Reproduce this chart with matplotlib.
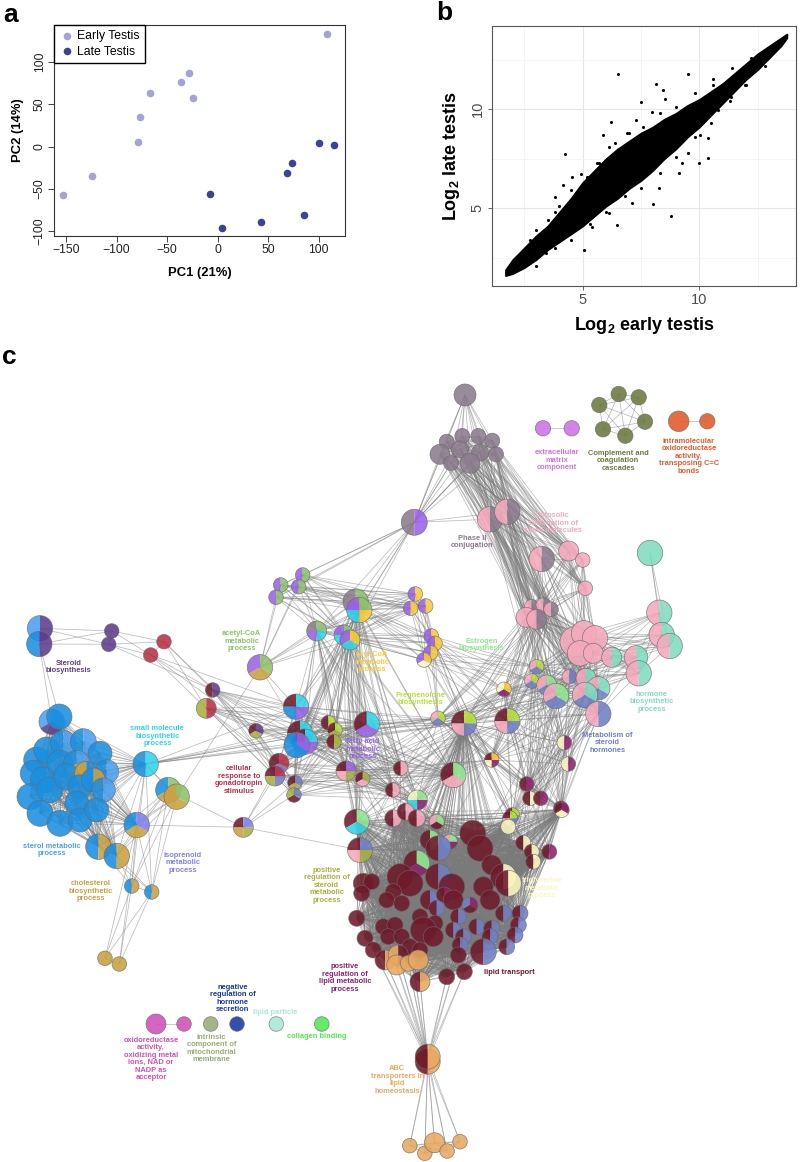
import matplotlib
matplotlib.use('Agg')
import matplotlib.pyplot as plt
from matplotlib.patches import Wedge, Circle
from matplotlib.collections import LineCollection
from itertools import combinations

plt.rcParams['font.family'] = ['Liberation Sans', 'DejaVu Sans']
plt.rcParams['mathtext.fontset'] = 'custom'
plt.rcParams['mathtext.rm'] = 'Liberation Sans'
plt.rcParams['mathtext.bf'] = 'Liberation Sans:bold'
plt.rcParams['mathtext.default'] = 'bf'

# ---------------- panel a: PCA ----------------
early_pc1 = [108, -28, -36, -67, -24, -77, -79, -124, -153]
early_pc2 = [133, 87, 76, 64, 57, 35, 5, -35, -57]
late_pc1 = [100, 115, 74, 69, -8, 85, 43, 4]
late_pc2 = [4, 2, -19, -31, -56, -81, -90, -96]

# ---------------- panel b: expression scatter ----------------
band_x = [1.7, 2.0, 2.5, 3.0, 3.5, 4.0, 4.5, 5.0, 5.5, 6.0, 6.5, 7.0, 7.5, 8.0,
          8.5, 9.0, 9.5, 10.0, 10.5, 11.0, 11.5, 12.0, 12.5, 13.0, 13.5, 13.75]
band_lo = [1.6, 1.7, 2.0, 2.4, 2.9, 3.3, 3.7, 4.1, 4.6, 5.1, 5.5, 6.0, 6.4, 6.9,
           7.5, 8.0, 8.6, 9.1, 9.7, 10.3, 10.9, 11.5, 12.0, 12.6, 13.2, 13.6]
band_hi = [1.9, 2.4, 3.0, 3.6, 4.1, 4.8, 5.5, 6.3, 6.9, 7.5, 8.0, 8.4, 8.8, 9.1,
           9.5, 9.8, 10.2, 10.5, 10.9, 11.3, 11.8, 12.3, 12.8, 13.2, 13.6, 13.8]
out_x = [6.5, 9.5, 8.13, 10.57, 8.43, 7.52, 8.54, 6.22, 5.88, 4.26, 7.27, 7.97, 9.26,
         9.52, 10.03, 10.38, 10.38, 10.0, 8.77, 8.0, 6.47, 5.07, 3.84, 4.18, 4.93, 4.55,
         3.82, 5.71, 6.13, 6.91, 6.13, 7.12, 8.26, 9.11, 10.8, 11.94, 11.37, 2.73, 3.44,
         4.29, 5.42, 9.67, 8.82,
         3.0, 3.5, 4.0, 4.5, 5.2, 5.6, 6.4, 7.0, 7.6, 8.3, 9.0, 9.8, 10.6, 11.4, 12.2,
         3.0, 3.8, 4.5, 5.3, 6.0, 6.8, 7.5, 8.3, 9.0, 9.8, 10.5, 11.3, 12.0, 12.8]
out_y = [11.78, 11.78, 11.26, 11.52, 10.98, 10.37, 10.52, 9.34, 8.70, 7.73, 9.46, 9.88, 7.27,
         7.81, 8.70, 8.54, 7.53, 7.27, 4.61, 5.22, 4.16, 2.90, 4.81, 6.18, 6.75, 6.60,
         5.59, 7.27, 8.11, 8.79, 4.75, 5.25, 6.01, 6.77, 9.97, 11.23, 10.64, 3.40, 2.73,
         3.74, 4.07, 9.12, 8.45,
         3.9, 4.4, 5.1, 5.9, 6.6, 7.3, 8.3, 8.8, 9.1, 9.8, 10.1, 10.8, 11.2, 12.1, 12.6,
         2.1, 3.0, 3.4, 4.2, 4.8, 5.6, 6.0, 6.8, 7.6, 8.6, 9.3, 10.4, 11.2, 12.2]

# ---------------- panel c: enrichment network ----------------
pal = {
    'gy': '#8c7b8e', 'pu': '#9a62e6', 'pk': '#f5a9bc', 'tl': '#80dcc0', 'mr': '#6e1a2a',
    'sb': '#6f80c4', 'lg': '#90e890', 'lm': '#b8e03a', 'ly': '#fbf6c0', 'ye': '#f9cb36',
    'gr': '#8dc26a', 'go': '#caa142', 'bl': '#1b8fe0', 'sl': '#4aa0f0', 'cy': '#2fd4e8',
    'pw': '#8080f0', 'dp': '#5e3c8c', 'cr': '#b83048', 'ol': '#a8b040', 'mg': '#8e2070',
    'tn': '#e8a860', 'cm': '#6b7a40', 'em': '#d070e8', 'io': '#e05a2a', 'ox': '#d050b8',
    'ic': '#98ac78', 'nr': '#1838a0', 'lp': '#a8e8d8', 'cb': '#50e850',
}

groups = {
    'gray_top': [(465, 395, 11, 'gy')],
    'gray_cl': [(446.7, 441.7, 7.5, 'gy'), (462.3, 436, 7.5, 'gy'), (478.3, 436, 7.5, 'gy'),
                (492.3, 440.7, 7.5, 'gy'), (440, 454.3, 10, 'gy'), (460, 449.3, 8.5, 'gy'),
                (480, 452.7, 8.5, 'gy'), (496, 454.3, 7.5, 'gy'), (451, 463, 7.5, 'gy'),
                (470, 463.3, 10, 'gy')],
    'p2_left': [(414.3, 522.3, 13, 'gy/pu')],
    'p2_right': [(490, 519.3, 12.7, 'pk/gy'), (507.3, 511.7, 12.7, 'pk/gy')],
    'extra': [(543, 428.3, 7.7, 'em'), (571.7, 428.3, 7.7, 'em')],
    'compl': [(599.3, 405, 7.7, 'cm'), (618.7, 394, 7.7, 'cm'), (638.7, 397.3, 7.7, 'cm'),
              (645, 421.7, 7.7, 'cm'), (625.3, 435.7, 7.7, 'cm'), (603, 429.3, 7.7, 'cm')],
    'intra': [(678.7, 421.3, 10.3, 'io'), (707.3, 421.3, 7.7, 'io')],
    'sulf': [(541.7, 559, 12.7, 'pk/gy'), (568.7, 551, 10, 'pk'), (582.7, 560, 7.3, 'pk'),
             (585.3, 588.3, 7.3, 'pk')],
    'teal_top': [(650, 553, 12.7, 'tl')],
    'teal_col': [(659.3, 612.7, 12.7, 'pk/tl'), (661.7, 635, 12.7, 'pk/tl'),
                 (669.7, 646, 12.7, 'pk/tl')],
    'pink_big': [(575, 641.7, 15, 'pk'), (584, 633.3, 12.7, 'pk'), (595, 638.3, 12.7, 'pk'),
                 (580, 653.3, 12.7, 'pk'), (593.3, 653.3, 10, 'pk')],
    'pink_teal': [(611.7, 657.3, 10, 'pk/tl'), (636, 657.3, 11.7, 'pk/tl'),
                  (638.7, 673.3, 12.7, 'pk/tl')],
    'pink_gray2': [(531.7, 606.7, 7.3, 'pk/gy'), (543.3, 605, 7.3, 'pk/gy'),
                   (551, 609.3, 7.3, 'pk/gy'), (526, 617.3, 10, 'pk'), (536.7, 619.3, 10, 'pk/gy')],
    'mix_right': [(536.7, 666.7, 7.3, 'pk/sb/lm'), (531.7, 681, 7.3, 'pk/sb/lm'),
                  (569.3, 676.7, 7.3, 'pk/sb'), (546.7, 685, 10, 'pk/sb/lg'),
                  (556, 696, 12.7, 'pk/sb/lg'), (586, 678.3, 10, 'pk/tl'),
                  (598.3, 688.3, 11.7, 'pk/sb/tl'), (585, 695, 12.7, 'pk/sb/tl'),
                  (598.3, 714, 12.7, 'pk/sb')],
    'purple_green': [(302.7, 575, 7.3, 'pu/gr'), (280.7, 585, 7.3, 'pu/gr'),
                     (298.7, 586.7, 7.3, 'pu/gr'), (276, 597.3, 7.3, 'pu/gr')],
    'py_top': [(415.3, 594, 7.3, 'pu/ye'), (410.7, 608.3, 7.3, 'pu/ye'),
               (425.7, 606, 7.3, 'pu/ye')],
    'py_low': [(431.3, 636, 7.3, 'pu/ye'), (435, 643.3, 7.3, 'pu/ye'),
               (430.7, 652.7, 7.3, 'pu/ye'), (424, 660, 7.3, 'pu/ly/ye')],
    'hub_top': [(355.7, 601.7, 12.7, 'gy/pu/gr'), (359.3, 610, 12.7, 'pu/cy/ye/gr'),
                (316.7, 631, 10, 'gy/pu/cy/gr'), (344, 635, 10, 'pu/cy/ye/gr'),
                (350, 640, 10, 'pu/cy/ye')],
    'acetyl': [(260, 667.3, 12.7, 'pu/go/gr')],
    'steroid': [(40, 628.3, 12.7, 'sl/dp'), (39.3, 644, 12.7, 'bl/dp'),
                (111.7, 631, 7.3, 'dp'), (108.7, 644.3, 7.3, 'dp')],
    'crimson': [(164, 641.7, 7.3, 'cr'), (150.7, 655, 7.3, 'cr')],
    'mid_left': [(212.7, 690, 7.3, 'mr/dp'), (206.3, 708.3, 10, 'ol/cr'),
                 (256, 730.7, 7.3, 'mr/ol/dp')],
    'hub_mid': [(296, 706.7, 12.7, 'mr/bl/pu/cy'), (300, 733.3, 12.7, 'mr/bl/pu/cy'),
                (305, 741.7, 12.7, 'mr/bl/pu/cy'), (296.7, 745, 12.7, 'bl/bl/pu'),
                (328.3, 722.7, 7.3, 'mr/lm'), (335, 730, 7.3, 'mr/ol/lm'),
                (334, 741.7, 7.3, 'mr/ol'), (366.7, 724.3, 12.7, 'mr/pu/cy')],
    'gonad': [(279, 763.3, 10, 'mr/sb/cr'), (275, 776, 10, 'mr/ol/sb/cr'),
              (295, 782.7, 7.3, 'mr/ol/sb'), (294, 795, 7.3, 'ol/mr/sb')],
    'preg': [(504, 689.3, 7.3, 'ly/mg/ye'), (438, 718.3, 7.3, 'pk/sb/lm'),
             (464, 723.3, 12.7, 'mr/pk/sb/lm'), (507.3, 721, 12.7, 'mr/pk/sb/lm'),
             (491.7, 760, 7.3, 'mr/ly/mg/ye')],
    'center': [(453.3, 775, 12.7, 'mr/pk/lg'), (400.7, 768.3, 7.3, 'mr/pk'),
               (346, 771, 10, 'mr/pk/ol/pu'), (362.7, 779, 7.3, 'mr/pk/ol'),
               (392.7, 790, 7.3, 'mr/pk'), (417.3, 800, 10, 'ly/cy/mg/lg')],
    'yellow_mag': [(564.3, 742.7, 7.3, 'ly/mg'), (568.3, 764, 7.3, 'ly/mg'),
                   (526.7, 784, 7.3, 'mr/mg'), (530, 798.3, 7.3, 'mr/ly'),
                   (540.7, 798.3, 7.3, 'mr/mg'), (561, 808.3, 7.3, 'mr/ly/mg'),
                   (512.3, 815, 7.3, 'mr/pk/sb/lm')],
    'blue_cl': [(51.7, 721.7, 12.7, 'sl/dp/bl'), (59.3, 716.7, 12.7, 'bl'),
                (36.7, 760, 13, 'bl'), (46.7, 750, 13, 'bl'), (63.3, 743.3, 13, 'bl/sl'),
                (83.3, 741.7, 13, 'bl/sl'), (100, 753.3, 12, 'bl'), (33.3, 773.3, 13, 'bl'),
                (43.3, 780, 13, 'bl'), (60, 763.3, 13, 'bl'), (76.7, 763.3, 13, 'bl/go/sl'),
                (106.7, 771.7, 12, 'bl/sl'), (30, 796.7, 13, 'bl'), (50, 790, 13, 'bl'),
                (66.7, 776.7, 13, 'bl'), (86.7, 773.3, 12, 'go/bl'), (80, 786.7, 12, 'bl'),
                (93.3, 780, 12, 'bl/go'), (103.3, 790, 12, 'bl/sl'), (40, 813.3, 13, 'bl'),
                (60, 823.3, 13, 'bl'), (76.7, 803.3, 12, 'bl'), (80, 820, 12, 'bl'),
                (96.7, 810, 12, 'bl')],
    'smallmol': [(145.7, 764, 12.7, 'bl/cy')],
    'chol': [(168.3, 790, 12.7, 'bl/go/gr'), (176.7, 796.7, 12.7, 'go/go/gr'),
             (136.7, 825, 12.7, 'bl/go/pw'), (98.3, 846.7, 12.7, 'bl/go'),
             (116.7, 856, 12.7, 'bl/go'), (131.7, 886, 7.3, 'bl/go'), (151.7, 892, 7.3, 'bl/go')],
    'gold_bot': [(105, 958.3, 7.3, 'go'), (119.3, 964, 7.3, 'go')],
    'left_mid': [(243.3, 827.3, 10, 'mr/go/ol/pw')],
    'maroon': [
        (356.7, 821.7, 12.5, 'mr/cy/lg'), (360, 850, 12.5, 'mr/pk/ol/sb'),
        (393.3, 818.3, 8.5, 'mr/pk'), (405.7, 811.7, 8.5, 'mr/pk'), (416.7, 818.3, 8.5, 'mr/pk'),
        (436.7, 821.7, 7.5, 'pk/mr/lg'), (430, 840, 10, 'mr/lg'), (450, 841.7, 7.5, 'pk/cy/mg/lg'),
        (438.3, 848.3, 12.5, 'mr/sb'), (472.7, 833.3, 13, 'mr'), (480, 848.3, 13, 'mr'),
        (510, 818.3, 7.5, 'mr/pk/sb/lm'), (508.3, 826.7, 7.5, 'ly'), (561.7, 810, 7.5, 'mr/ly/mg'),
        (523.3, 842.7, 7.5, 'mr/ly'), (531.7, 851.7, 7.5, 'mr/ly'), (533.3, 861.7, 7.5, 'mr/ly'),
        (549.3, 851.7, 7.5, 'mr/mg'), (416.7, 863.3, 13, 'mr/mg/lg'), (491.7, 865, 10, 'mr'),
        (503.3, 876.7, 13, 'mr/ly'), (508.3, 883.3, 13, 'mr/ly'), (363.3, 883.3, 10, 'mr'),
        (371.7, 881.7, 8, 'mr'), (361.7, 893.3, 8, 'mr'), (400, 876.7, 13, 'mr'),
        (410, 883.3, 13, 'mr'), (393.3, 891.7, 8, 'mr'), (386.7, 900, 8, 'mr'),
        (401.7, 903.3, 8, 'mr'), (438.3, 876.7, 13, 'mr/sb'), (451.7, 886.7, 13, 'mr'),
        (430, 900, 10, 'mr/sb'), (444.3, 895, 8, 'mr/mg'), (436.7, 908.3, 8, 'mr/sb'),
        (453.3, 900, 10, 'mr'), (483.3, 886.7, 10, 'mr'), (490, 900, 10, 'mr'),
        (470, 905, 8, 'sb/mr/mg'), (503.3, 913.3, 8, 'mr/sb'), (520, 913.3, 8, 'mr/sb'),
        (518.3, 925, 8, 'mr/sb'), (515, 935, 8, 'mr/sb'), (356.7, 918.3, 8, 'mr'),
        (383.3, 926.7, 8, 'mr'), (395, 925, 8, 'mr'), (388.3, 936.7, 8, 'mr'),
        (401.7, 936.7, 8, 'mr'), (420, 916.7, 8, 'mr'), (435, 923.3, 8, 'mr'),
        (423.3, 930, 13, 'mr'), (433.3, 936.7, 10, 'mr'), (458.3, 916.7, 8, 'mr/sb'),
        (453.3, 930, 8, 'mr/sb'), (463.3, 936.7, 8, 'mr/sb'), (476.7, 926.7, 8, 'mr/sb'),
        (491.7, 928.3, 8, 'mr/sb'), (490, 936.7, 8, 'mr/sb'), (506.7, 946.7, 8, 'mr/sb'),
        (460, 945, 8, 'mr/sb'), (483.3, 951.7, 13, 'mr/sb'), (365, 938.3, 8, 'mr'),
        (373.3, 950, 8, 'mr'), (410, 946.7, 8, 'mr'), (420, 950, 8, 'mr'),
        (458.3, 955, 8, 'mr'), (385, 960, 10, 'mr/tn'), (398.3, 955, 10, 'tn/mr'),
        (396.7, 965, 10, 'tn'), (408.3, 963.3, 8, 'tn'), (418.3, 960, 10, 'tn'),
        (446.7, 976.7, 8, 'mr'), (464.3, 971.7, 8, 'mr'), (420, 981.7, 10, 'mr/tn')],
    'abc': [(427.7, 1061.7, 12.5, 'mr/tn'), (427.7, 1056.7, 12.5, 'mr/tn')],
    'tan_bot': [(409.8, 1145.7, 7.3, 'tn'), (424.8, 1153.3, 7.3, 'tn'), (434.5, 1142.7, 10, 'tn'),
                (447.1, 1151, 7.3, 'tn'), (460, 1141.7, 7.3, 'tn')],
    'oxid': [(156, 1024, 10, 'ox'), (184, 1024, 7.3, 'ox')],
    'singles': [(210.7, 1024, 7.3, 'ic'), (237, 1024, 7.3, 'nr'), (276.3, 1024, 7.3, 'lp'),
                (321.8, 1024, 7.3, 'cb')],
}

links = [
    ('gray_top', 'gray_cl'), ('gray_top', 'p2_left'), ('gray_top', 'p2_right'),
    ('gray_cl', 'p2_left'), ('gray_cl', 'p2_right'), ('gray_cl', 'sulf'), ('gray_cl', 'pink_gray2'),
    ('p2_left', 'p2_right'), ('p2_left', 'purple_green'), ('p2_left', 'hub_top'),
    ('p2_right', 'sulf'), ('p2_right', 'pink_gray2'), ('p2_right', 'mix_right'),
    ('sulf', 'pink_gray2'), ('sulf', 'pink_big'),
    ('teal_top', 'teal_col'), ('teal_col', 'pink_big'), ('teal_col', 'pink_teal'),
    ('pink_big', 'pink_teal'), ('pink_big', 'pink_gray2'), ('pink_big', 'mix_right'),
    ('pink_teal', 'mix_right'), ('pink_gray2', 'mix_right'), ('pink_gray2', 'preg'),
    ('mix_right', 'preg'), ('mix_right', 'yellow_mag'),
    ('mix_right:8', 'maroon:9'), ('mix_right:8', 'maroon:13'), ('mix_right:8', 'maroon:19'),
    ('mix_right:4', 'maroon:10'), ('mix_right:4', 'maroon:20'), ('mix_right:1', 'maroon:8'),
    ('purple_green', 'hub_top'), ('purple_green', 'acetyl'), ('purple_green', 'py_top'),
    ('py_top', 'py_low'), ('py_top', 'hub_top'), ('py_low', 'hub_top'), ('py_low', 'preg'),
    ('py_low', 'mix_right:0'), ('py_low', 'mix_right:1'),
    ('hub_top', 'acetyl'), ('hub_top', 'hub_mid'), ('hub_top', 'center'),
    ('hub_top', 'maroon:0'), ('hub_top', 'maroon:1'),
    ('acetyl', 'chol:1'), ('acetyl', 'hub_mid:0'), ('acetyl', 'hub_mid:1'),
    ('steroid:1', 'blue_cl:0'), ('steroid:1', 'blue_cl:1'),
    ('steroid:2', 'crimson'), ('steroid:3', 'crimson'), ('steroid:3', 'mid_left:0'),
    ('crimson', 'mid_left'), ('crimson:1', 'hub_mid:0'),
    ('mid_left', 'hub_mid'), ('mid_left', 'gonad'),
    ('blue_cl', 'smallmol'), ('blue_cl', 'chol:2'), ('blue_cl', 'chol:3'), ('blue_cl', 'chol:4'),
    ('smallmol', 'hub_mid'), ('smallmol', 'chol'),
    ('chol:5', 'gold_bot'), ('chol:6', 'gold_bot'), ('chol:2', 'gold_bot'),
    ('chol:2', 'left_mid'), ('chol:0', 'left_mid'),
    ('left_mid', 'gonad'), ('left_mid', 'maroon:1'),
    ('hub_mid', 'gonad'), ('hub_mid', 'center'), ('hub_mid', 'preg:1'), ('hub_mid', 'preg:2'),
    ('gonad', 'center'),
    ('preg', 'center'), ('preg:2', 'maroon'), ('preg', 'yellow_mag'),
    ('center', 'maroon:0'), ('center', 'maroon:1'), ('center', 'maroon:5'),
    ('center', 'maroon:9'), ('center', 'maroon:18'), ('center', 'maroon:25'),
    ('yellow_mag', 'maroon:13'), ('yellow_mag', 'maroon:17'), ('yellow_mag', 'maroon:21'),
    ('yellow_mag', 'maroon:40'),
    ('maroon:62', 'abc'), ('maroon:63', 'abc'), ('maroon:66', 'abc'), ('maroon:67', 'abc'),
    ('maroon:69', 'abc'), ('maroon:71', 'abc'), ('maroon:72', 'abc'), ('maroon:73', 'abc'),
    ('maroon:44', 'abc'), ('maroon:65', 'abc'),
    ('abc', 'tan_bot'),
]

net_labels = [
    ('extracellular\nmatrix\ncomponent', 556.7, 460, 'em'),
    ('Complement and\ncoagulation\ncascades', 618.3, 460.7, 'cm'),
    ('intramolecular\noxidoreductase\nactivity,\ntransposing C=C\nbonds', 689, 456, 'io'),
    ('Phase II\nconjugation', 472, 542, 'gy'),
    ('Cytosolic\nsulfonation of\nsmall molecules', 553, 523, 'pk'),
    ('acetyl-CoA\nmetabolic\nprocess', 241.7, 641, 'gr'),
    ('acyl-CoA\nmetabolic\nprocess', 371.7, 662, 'ye'),
    ('Estrogen\nbiosynthesis', 481.7, 645, 'lg'),
    ('Pregnenolone\nbiosynthesis', 420, 699, 'lm'),
    ('Steroid\nbiosynthesis', 68.3, 667, 'dp'),
    ('small molecule\nbiosynthetic\nprocess', 157.3, 736, 'cy'),
    ('fatty acid\nmetabolic\nprocess', 362.7, 749, 'pu'),
    ('cellular\nresponse to\ngonadotropin\nstimulus', 239.3, 780, 'cr'),
    ('hormone\nbiosynthetic\nprocess', 651.7, 701.7, 'tl'),
    ('Metabolism of\nsteroid\nhormones', 607.7, 742.7, 'sb'),
    ('sterol metabolic\nprocess', 51.7, 850, 'sl'),
    ('isoprenoid\nmetabolic\nprocess', 182.7, 862.7, 'pw'),
    ('cholesterol\nbiosynthetic\nprocess', 90.7, 891, 'go'),
    ('positive\nregulation of\nsteroid\nmetabolic\nprocess', 326.7, 885, 'ol'),
    ('triglyceride\nmetabolic\nprocess', 541.7, 888, 'ly'),
    ('positive\nregulation of\nlipid metabolic\nprocess', 345, 978, 'mg'),
    ('lipid transport', 509, 972.3, 'mr'),
    ('negative\nregulation of\nhormone\nsecretion', 232.8, 998.3, 'nr'),
    ('lipid particle', 275.5, 1012.3, 'lp'),
    ('collagen binding', 317.2, 1036.3, 'cb'),
    ('oxidoreductase\nactivity,\noxidizing metal\nions, NAD or\nNADP as\nacceptor', 151, 1059, 'ox'),
    ('intrinsic\ncomponent of\nmitochondrial\nmembrane', 211.3, 1048.5, 'ic'),
    ('ABC\ntransporters in\nlipid\nhomeostasis', 397.2, 1080, 'tn'),
]

fig = plt.figure(figsize=(8, 11.62), dpi=100)

# panel a
axa = fig.add_axes([0.0675, 0.7969, 0.3638, 0.1816])
axa.scatter(early_pc1, early_pc2, s=20, color='#a3a3d4', label='Early Testis', zorder=3)
axa.scatter(late_pc1, late_pc2, s=20, color='#3d4199', label='Late Testis', zorder=3)
axa.set_xlim(-162, 126)
axa.set_ylim(-106, 144)
axa.set_xticks([-150, -100, -50, 0, 50, 100])
axa.set_yticks([-100, -50, 0, 50, 100])
axa.set_yticklabels(['−100', '−50', '0', '50', '100'], rotation=90, va='center')
axa.set_xticklabels(['−150', '−100', '−50', '0', '50', '100'])
axa.tick_params(direction='out', length=4, width=0.6, labelsize=8.8, colors='#222222', pad=2)
for s in axa.spines.values():
    s.set_color('#333333')
    s.set_linewidth(0.8)
axa.set_xlabel('PC1 (21%)', fontweight='bold', fontsize=9.4, labelpad=8)
axa.set_ylabel('PC2 (14%)', fontweight='bold', fontsize=9.4, labelpad=7)
axa.legend(loc='upper left', borderaxespad=0, fancybox=False, edgecolor='black',
           framealpha=1, fontsize=8.8, handletextpad=0.2, borderpad=0.45,
           labelspacing=0.25, handlelength=1.2, markerscale=1.0)

# panel b
axb = fig.add_axes([0.6146, 0.7539, 0.381, 0.2237])
axb.set_xlim(1.11, 14.16)
axb.set_ylim(1.08, 14.2)
axb.set_xticks([5, 10])
axb.set_yticks([5, 10])
axb.set_xticks([2.5, 7.5, 12.5], minor=True)
axb.set_yticks([2.5, 7.5, 12.5], minor=True)
axb.grid(which='major', color='#e6e6e6', lw=0.8)
axb.grid(which='minor', color='#f2f2f2', lw=0.5)
axb.set_axisbelow(True)
axb.fill_between(band_x, band_lo, band_hi, color='black', lw=1.2, edgecolor='black', zorder=2)
axb.scatter(out_x, out_y, s=5, color='black', lw=0, zorder=3)
axb.set_yticklabels(['5', '10'], rotation=90, va='center')
axb.tick_params(which='major', direction='out', length=3, width=0.6, labelsize=10.5,
                colors='#4d4d4d', pad=2)
axb.tick_params(which='minor', length=0)
for s in axb.spines.values():
    s.set_color('#555555')
    s.set_linewidth(0.8)
axb.set_xlabel('Log$_2$ early testis', fontweight='bold', fontsize=13, labelpad=6)
axb.set_ylabel('Log$_2$ late testis', fontweight='bold', fontsize=13, labelpad=6)

# panel c
axc = fig.add_axes([0, 0, 1, (1162 - 345) / 1162])
axc.set_xlim(0, 800)
axc.set_ylim(1162, 345)
axc.axis('off')


def members(key):
    if ':' in key:
        g, i = key.split(':')
        return [groups[g][int(i)]]
    return groups[key]


segs = []
for g, nodes in groups.items():
    if g == 'singles':
        continue
    for a, b in combinations(nodes, 2):
        segs.append([(a[0], a[1]), (b[0], b[1])])
for ka, kb in links:
    for a in members(ka):
        for b in members(kb):
            segs.append([(a[0], a[1]), (b[0], b[1])])
axc.add_collection(LineCollection(segs, colors='#7a7a7a', linewidths=0.55, alpha=0.5, zorder=1))


def draw_node(x, y, r, code):
    cols = [pal[c] for c in code.split('/')]
    n = len(cols)
    if n == 1:
        axc.add_patch(Circle((x, y), r, fc=cols[0], ec='none', alpha=0.88, zorder=2))
    else:
        step = 360 / n
        for i, c in enumerate(cols):
            axc.add_patch(Wedge((x, y), r, 270 - (i + 1) * step, 270 - i * step,
                                fc=c, ec='none', alpha=0.88, zorder=2))
    axc.add_patch(Circle((x, y), r, fc='none', ec='#6a6a6a', lw=0.5, alpha=0.8, zorder=2))


for g, nodes in groups.items():
    for x, y, r, code in nodes:
        draw_node(x, y, r, code)

for txt, x, y, c in net_labels:
    axc.text(x, y, txt, color=pal[c], fontsize=5.4, fontweight='bold', ha='center',
             va='center', linespacing=1.1, zorder=4)

fig.text(0.004, 1 - 15 / 1162, 'a', fontsize=19, fontweight='bold', va='center')
fig.text(0.545, 1 - 13 / 1162, 'b', fontsize=19, fontweight='bold', va='center')
fig.text(0.002, 1 - 357 / 1162, 'c', fontsize=19, fontweight='bold', va='center')

fig.savefig('out.png', dpi=100)
